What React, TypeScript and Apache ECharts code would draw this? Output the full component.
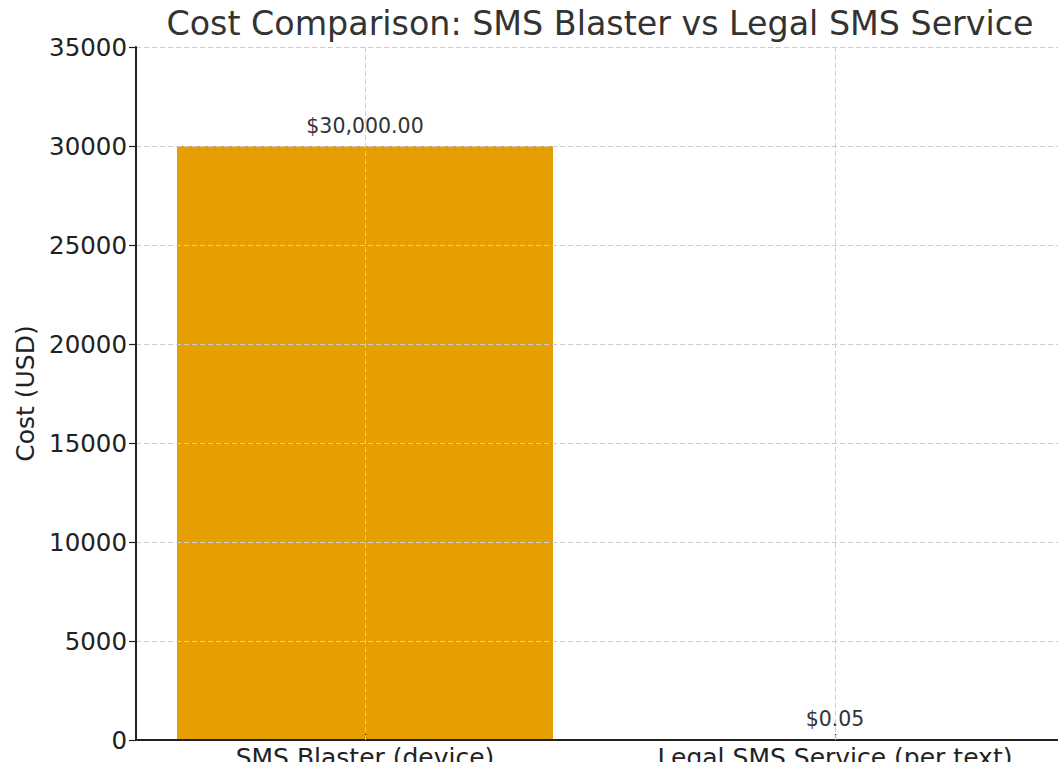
import React, { useEffect, useRef } from "react";
import * as echarts from "echarts";

const categories = ["SMS Blaster (device)", "Legal SMS Service (per text)"];
const costs = [30000, 0.05];
const barColors = ["#E69F00", "#56B4E9"];
const costLabels = ["$30,000.00", "$0.05"];
const yMin = 0;
const yMax = 35000;
const yInterval = 5000;

const FONT = "DejaVu Sans";

export default function App() {
  const ref = useRef<HTMLDivElement>(null);
  useEffect(() => {
    if (!ref.current) return;
    const chart = echarts.init(ref.current, null, { renderer: "svg" });
    chart.setOption({
      animation: false,
      backgroundColor: "#ffffff",
      title: {
        text: "Cost Comparison: SMS Blaster vs Legal SMS Service",
        left: 595,
        textAlign: "center",
        top: 2,
        textStyle: { fontFamily: FONT, fontSize: 33.3, fontWeight: "normal", color: "#333333" },
      },
      grid: [
        { left: 136, top: 47, width: 928, height: 693, outerBoundsMode: "none", containLabel: false },
        { left: 130, top: 47, width: 940, height: 693, outerBoundsMode: "none", containLabel: false },
      ],
      xAxis: [
        {
          type: "category",
          gridIndex: 0,
          data: categories,
          z: 3,
          axisLine: { lineStyle: { color: "#222222", width: 2 } },
          axisTick: { show: false },
          axisLabel: { show: false },
          splitLine: { show: false },
        },
        {
          type: "category",
          gridIndex: 1,
          data: categories,
          boundaryGap: true,
          z: 3,
          axisLine: { show: false },
          axisTick: { show: true, alignWithLabel: true, inside: true, length: 6, lineStyle: { color: "#222222", width: 1.2 } },
          axisLabel: { fontFamily: FONT, fontSize: 25, color: "#222222", margin: 5 },
          splitLine: { show: false },
        },
      ],
      yAxis: [
        {
          type: "value",
          gridIndex: 0,
          min: yMin,
          max: yMax,
          interval: yInterval,
          z: 3,
          name: "Cost (USD)",
          nameLocation: "middle",
          nameGap: 98,
          nameTextStyle: { fontFamily: FONT, fontSize: 25, color: "#222222" },
          axisLine: { show: true, lineStyle: { color: "#222222", width: 2 } },
          axisTick: { show: true, length: 7, lineStyle: { color: "#222222", width: 1.2 } },
          axisLabel: {
            fontFamily: FONT,
            fontSize: 24.5,
            color: "#222222",
            margin: 9,
            formatter: (v: number) => String(v),
          },
          splitLine: { show: true, lineStyle: { color: "#cccccc", type: [5, 3], width: 1 } },
        },
        {
          type: "value",
          gridIndex: 1,
          min: yMin,
          max: yMax,
          interval: yInterval,
          show: false,
          splitLine: { show: false },
        },
      ],
      series: [
        {
          type: "bar",
          xAxisIndex: 1,
          yAxisIndex: 1,
          barWidth: "80%",
          data: costs.map((v, i) => ({ value: v, itemStyle: { color: barColors[i] } })),
          label: {
            show: true,
            position: "top",
            distance: 10,
            fontFamily: FONT,
            fontSize: 20.5,
            color: "#333333",
            formatter: (p: any) => costLabels[p.dataIndex],
          },
          markLine: {
            silent: true,
            symbol: "none",
            z: 4,
            label: { show: false },
            lineStyle: { color: "#cccccc", type: [5, 3], width: 1 },
            data: categories.map((c) => ({ xAxis: c })),
          },
        },
      ],
    });
    return () => chart.dispose();
  }, []);
  return (
    <div
      ref={ref}
      style={{ position: "fixed", left: 0, top: 0, width: 1058, height: 762 }}
    />
  );
}
